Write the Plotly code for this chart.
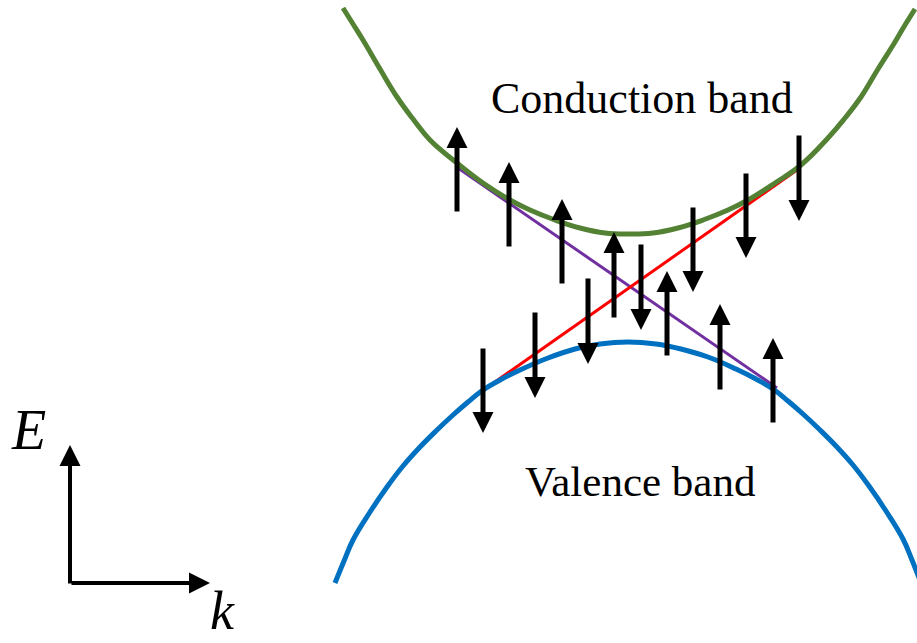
import plotly.graph_objects as go

# Conduction band (green) sample points (screen-like units, E grows downward)
cond_x = [343, 353, 363, 380, 397, 413, 430, 457, 483, 510, 530, 555, 580, 605, 629,
          653, 678, 703, 728, 748, 775, 801, 828, 845, 861, 878, 895, 905, 915]
cond_y = [8, 24, 40, 69, 97, 119, 140, 163, 183, 200, 210, 220, 228, 233, 234,
          233, 228, 220, 210, 200, 183, 165, 138, 118, 97, 69, 42, 25, 9]

# Valence band (blue)
val_x = [335, 344, 353, 370, 387, 403, 420, 437, 453, 468, 483, 500, 520, 548, 575, 600, 628,
         656, 681, 708, 736, 756, 773, 788, 803, 819, 836, 853, 869, 886, 903, 912, 921]
val_y = [583, 561, 540, 512, 487, 466, 447, 430, 415, 402, 390, 380, 370, 358, 349, 344, 342,
         344, 349, 357, 369, 379, 389, 401, 414, 429, 446, 465, 486, 511, 539, 560, 583]

# Surface-state lines
purple_x = [458, 777]
purple_y = [168, 388]
red_x = [485, 797]
red_y = [389, 170]

# Spin arrows on the purple line (pointing up)
up_x = [457, 509, 562, 614, 667, 720, 773]
up_tail = [213, 248, 285, 319, 357, 391, 424]
up_tip = [127, 162, 199, 232, 271, 304, 338]

# Spin arrows on the red line (pointing down)
down_x = [483, 535, 588, 641, 693, 746, 799]
down_tail = [347, 311, 277, 243, 206, 172, 134]
down_tip = [433, 398, 364, 330, 292, 258, 221]

# Axes indicator
origin = (70, 583)
e_tip = (70, 445)
k_tip = (210, 583)

fig = go.Figure()
fig.add_trace(go.Scatter(x=purple_x, y=purple_y, mode="lines",
                         line=dict(color="#7030A0", width=3), hoverinfo="skip"))
fig.add_trace(go.Scatter(x=red_x, y=red_y, mode="lines",
                         line=dict(color="#FF0000", width=3), hoverinfo="skip"))
fig.add_trace(go.Scatter(x=cond_x, y=cond_y, mode="lines",
                         line=dict(color="#548235", width=5, shape="spline", smoothing=1.2),
                         hoverinfo="skip"))
fig.add_trace(go.Scatter(x=val_x, y=val_y, mode="lines",
                         line=dict(color="#0070C0", width=5, shape="spline", smoothing=1.2),
                         hoverinfo="skip"))

ann = []
def arrow(x0, y0, x1, y1, w, s):
    ann.append(dict(x=x1, y=y1, ax=x0, ay=y0, xref="x", yref="y", axref="x", ayref="y",
                    text="", showarrow=True, arrowhead=2, arrowsize=s, arrowwidth=w,
                    arrowcolor="black", standoff=0, startstandoff=0))

for x, t, h in zip(up_x, up_tail, up_tip):
    arrow(x, t, x, h, 5, 0.84)
for x, t, h in zip(down_x, down_tail, down_tip):
    arrow(x, t, x, h, 5, 0.84)

arrow(origin[0], origin[1] + 2, e_tip[0], e_tip[1], 4, 1.05)
arrow(origin[0], origin[1], k_tip[0], k_tip[1], 4, 1.05)

serif = "'Times New Roman', 'Liberation Serif', 'DejaVu Serif', serif"
ann.append(dict(x=642, y=98, xref="x", yref="y", text="Conduction band", showarrow=False,
                font=dict(family=serif, size=44, color="black"), xanchor="center", yanchor="middle"))
ann.append(dict(x=640, y=481, xref="x", yref="y", text="Valence band", showarrow=False,
                font=dict(family=serif, size=43, color="black"), xanchor="center", yanchor="middle"))
ann.append(dict(x=28, y=430, xref="x", yref="y", text="<i>E</i>", showarrow=False,
                font=dict(family=serif, size=56, color="black"), xanchor="center", yanchor="middle"))
ann.append(dict(x=222, y=643, xref="x", yref="y", text="<i>k</i>", showarrow=False,
                font=dict(family=serif, size=54, color="black"), xanchor="center", yanchor="bottom"))

fig.update_layout(
    width=917, height=643,
    margin=dict(l=0, r=0, t=0, b=0),
    paper_bgcolor="white", plot_bgcolor="white",
    showlegend=False,
    font=dict(family=serif),
    annotations=ann,
    xaxis=dict(range=[0, 917], visible=False, fixedrange=True),
    yaxis=dict(range=[643, 0], visible=False, fixedrange=True),
)

fig.write_html("out.html", config={"displayModeBar": False})
